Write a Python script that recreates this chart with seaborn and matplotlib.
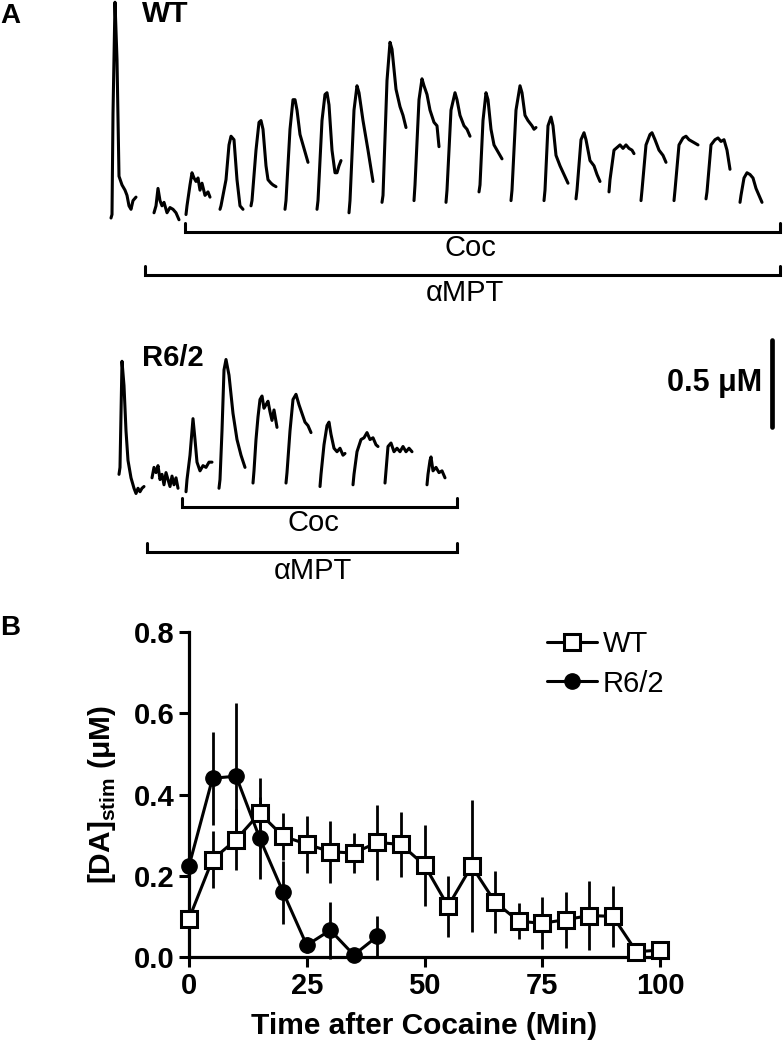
import numpy as np
import pandas as pd
import matplotlib
matplotlib.use("Agg")
import matplotlib.pyplot as plt
import seaborn as sns

sns.set_theme(style="ticks")
plt.rcParams['font.family'] = ['Liberation Sans', 'DejaVu Sans']
plt.rcParams['mathtext.fontset'] = 'custom'
plt.rcParams['mathtext.rm'] = 'Liberation Sans'
plt.rcParams['mathtext.bf'] = 'Liberation Sans:bold'
for k in ['text.color', 'axes.labelcolor', 'xtick.color', 'ytick.color', 'axes.edgecolor']:
    plt.rcParams[k] = 'black'

# ---------------- Panel B data ----------------
wt_time = [0, 5, 10, 15, 20, 25, 30, 35, 40, 45, 50, 55, 60, 65, 70, 75, 80, 85, 90, 95, 100]
wt_mean = [0.094, 0.240, 0.289, 0.354, 0.297, 0.278, 0.259, 0.256, 0.282, 0.277, 0.226,
           0.125, 0.224, 0.135, 0.088, 0.083, 0.092, 0.102, 0.100, 0.013, 0.017]
wt_err = [0.015, 0.070, 0.076, 0.086, 0.057, 0.070, 0.077, 0.049, 0.092, 0.080, 0.100,
          0.075, 0.163, 0.077, 0.044, 0.064, 0.069, 0.085, 0.075, 0.0, 0.0]
r6_time = [0, 5, 10, 15, 20, 25, 30, 35, 40]
r6_mean = [0.224, 0.440, 0.445, 0.293, 0.159, 0.029, 0.066, 0.005, 0.051]
r6_err = [0.0, 0.115, 0.180, 0.100, 0.077, 0.020, 0.070, 0.0, 0.050]
x_ticks = [0, 25, 50, 75, 100]
y_ticks = [0.0, 0.2, 0.4, 0.6, 0.8]

# ---------------- Panel A traces (time units, concentration in uM) ----------------
wt_traces_t = [
    [111, 112, 113, 115, 117, 119, 122, 125, 127, 129, 131, 133, 136],
    [154, 156, 158, 160, 162, 164, 167, 170, 173, 176, 179],
    [186, 187, 190, 192, 194, 196, 198, 200, 202, 205, 208, 210],
    [220, 221, 226, 229, 231, 234, 237, 240, 243],
    [251, 252, 256, 259, 261, 263, 266, 268, 271, 273, 276],
    [285, 286, 290, 293, 295, 297, 300, 303, 306, 308],
    [317, 318, 322, 325, 327, 329, 332, 335, 337, 339, 341],
    [349, 350, 354, 357, 359, 363, 368, 373],
    [382, 383, 387, 390, 392, 396, 400, 403, 406],
    [414, 415, 419, 422, 424, 427, 430, 434, 437, 439],
    [446, 447, 451, 455, 457, 460, 464, 467, 470],
    [479, 480, 483, 486, 488, 491, 494, 497, 500, 502],
    [511, 512, 516, 520, 522, 525, 528, 532, 534, 536],
    [544, 545, 548, 551, 553, 556, 560, 564, 568],
    [576, 577, 581, 584, 586, 590, 594, 597, 600],
    [609, 610, 614, 618, 620, 623, 626, 629, 632, 634],
    [641, 642, 646, 650, 652, 655, 659, 663, 666],
    [674, 675, 679, 683, 686, 689, 692, 695, 698],
    [706, 707, 711, 715, 718, 721, 724, 727, 730],
    [740, 741, 744, 747, 750, 753, 756, 759, 762],
]
wt_traces_c = [
    [0.00, 0.02, 0.60, 1.24, 0.91, 0.24, 0.19, 0.16, 0.13, 0.07, 0.05, 0.10, 0.12],
    [0.03, 0.07, 0.17, 0.10, 0.07, 0.09, 0.03, 0.06, 0.05, 0.03, -0.01],
    [0.02, 0.07, 0.19, 0.26, 0.23, 0.21, 0.23, 0.16, 0.20, 0.13, 0.15, 0.12],
    [0.05, 0.07, 0.22, 0.42, 0.47, 0.45, 0.22, 0.07, 0.05],
    [0.07, 0.10, 0.39, 0.55, 0.56, 0.51, 0.30, 0.22, 0.20, 0.19, 0.18],
    [0.05, 0.10, 0.51, 0.68, 0.68, 0.62, 0.48, 0.42, 0.36, 0.32],
    [0.05, 0.10, 0.56, 0.71, 0.72, 0.65, 0.39, 0.26, 0.26, 0.30, 0.33],
    [0.03, 0.10, 0.62, 0.76, 0.72, 0.56, 0.39, 0.21],
    [0.09, 0.13, 0.79, 1.01, 0.97, 0.74, 0.64, 0.59, 0.52],
    [0.10, 0.19, 0.68, 0.80, 0.76, 0.71, 0.62, 0.55, 0.53, 0.41],
    [0.09, 0.16, 0.62, 0.72, 0.68, 0.59, 0.53, 0.51, 0.47],
    [0.15, 0.19, 0.56, 0.72, 0.68, 0.51, 0.42, 0.39, 0.36, 0.34],
    [0.10, 0.16, 0.62, 0.76, 0.72, 0.59, 0.56, 0.53, 0.51, 0.52],
    [0.10, 0.16, 0.53, 0.58, 0.53, 0.36, 0.30, 0.25, 0.20],
    [0.11, 0.16, 0.45, 0.49, 0.45, 0.33, 0.30, 0.25, 0.21],
    [0.15, 0.22, 0.39, 0.41, 0.42, 0.40, 0.42, 0.40, 0.39, 0.37],
    [0.10, 0.16, 0.42, 0.48, 0.49, 0.45, 0.39, 0.36, 0.32],
    [0.10, 0.16, 0.42, 0.46, 0.47, 0.45, 0.44, 0.43, 0.42],
    [0.11, 0.15, 0.42, 0.45, 0.46, 0.44, 0.45, 0.39, 0.28],
    [0.09, 0.13, 0.23, 0.26, 0.25, 0.23, 0.17, 0.13, 0.09],
]
r6_traces_t = [
    [119, 120, 122, 124, 126, 128, 131, 134, 136, 138, 140, 142, 144],
    [152, 154, 156, 158, 160, 162, 164, 166, 168, 170, 172, 174, 176, 178],
    [186, 187, 190, 193, 195, 197, 200, 203, 206, 209, 212],
    [219, 220, 222, 224, 226, 229, 233, 237, 241, 245],
    [253, 254, 256, 258, 260, 262, 264, 266, 268, 270, 272, 274, 277],
    [286, 287, 290, 293, 296, 299, 302, 305, 308, 311],
    [320, 321, 324, 327, 329, 331, 334, 337, 340, 343, 345],
    [353, 354, 357, 361, 364, 367, 370, 373, 376, 378],
    [385, 386, 388, 391, 394, 397, 400, 403, 406, 409, 412],
    [427, 428, 430, 431, 433, 436, 439, 442, 445],
]
r6_traces_c = [
    [0.09, 0.13, 0.74, 0.60, 0.34, 0.17, 0.07, 0.01, -0.02, 0.01, -0.01, 0.01, 0.02],
    [0.07, 0.13, 0.10, 0.14, 0.06, 0.09, 0.03, 0.10, 0.06, 0.02, 0.08, 0.03, 0.07, 0.01],
    [-0.01, 0.06, 0.20, 0.41, 0.29, 0.16, 0.11, 0.14, 0.13, 0.16, 0.16],
    [0.01, 0.06, 0.34, 0.69, 0.75, 0.66, 0.44, 0.29, 0.20, 0.13],
    [0.04, 0.11, 0.29, 0.42, 0.52, 0.54, 0.47, 0.49, 0.51, 0.45, 0.40, 0.46, 0.36],
    [0.04, 0.10, 0.34, 0.52, 0.55, 0.49, 0.44, 0.39, 0.37, 0.33],
    [0.02, 0.09, 0.26, 0.37, 0.39, 0.32, 0.24, 0.22, 0.24, 0.20, 0.21],
    [0.03, 0.09, 0.22, 0.29, 0.30, 0.33, 0.29, 0.30, 0.26, 0.25],
    [0.04, 0.11, 0.25, 0.27, 0.22, 0.24, 0.22, 0.25, 0.22, 0.24, 0.22],
    [0.03, 0.09, 0.17, 0.19, 0.11, 0.13, 0.10, 0.11, 0.07],
]
scale_bar_uM = 0.5

W, H = 784, 1050
fig = plt.figure(figsize=(W / 100, H / 100), dpi=100)


def px_axes(x0, y0, x1, y1):
    """axes occupying the pixel box (x0,y0)-(x1,y1), y measured from top"""
    return fig.add_axes([x0 / W, 1 - y1 / H, (x1 - x0) / W, (y1 - y0) / H])


PX_PER_UM = 174.0
TRACE_LW = 2.2
# WT traces axes (baseline at pixel row 218)
ax_wt = px_axes(0, 0, W, 240)
ax_wt.set_xlim(0, W)
ax_wt.set_ylim((218 - 240) / PX_PER_UM, 218 / PX_PER_UM)
ax_wt.axis('off')
for t, c in zip(wt_traces_t, wt_traces_c):
    sns.lineplot(x=t, y=c, ax=ax_wt, color='black', lw=TRACE_LW, sort=False,
                 estimator=None, clip_on=False)

# R6/2 traces axes (baseline at pixel row 490)
ax_r6 = px_axes(0, 330, W, 500)
ax_r6.set_xlim(0, W)
ax_r6.set_ylim((490 - 500) / PX_PER_UM, (490 - 330) / PX_PER_UM)
ax_r6.axis('off')
for t, c in zip(r6_traces_t, r6_traces_c):
    sns.lineplot(x=t, y=c, ax=ax_r6, color='black', lw=TRACE_LW, sort=False,
                 estimator=None, clip_on=False)
# scale bar
bar_base = (490 - 427) / PX_PER_UM
ax_r6.plot([772, 772], [bar_base, bar_base + scale_bar_uM], color='black', lw=3.4,
           solid_capstyle='round', clip_on=False)

# overlay in pixel coordinates for brackets / labels
ov = fig.add_axes([0, 0, 1, 1])
ov.set_xlim(0, W)
ov.set_ylim(H, 0)
ov.axis('off')
ov.patch.set_alpha(0)


def bracket(x0, x1, y, h=9):
    ov.plot([x0, x0, x1, x1], [y - h, y, y, y - h], color='black', lw=2.2,
            solid_joinstyle='miter')


bracket(185, 780, 232)
bracket(145, 780, 275)
bracket(182, 457, 507)
bracket(147, 457, 552)
ov.text(470, 248, 'Coc', ha='center', va='center', fontsize=21)
ov.text(465, 293, 'αMPT', ha='center', va='center', fontsize=21)
ov.text(313, 523, 'Coc', ha='center', va='center', fontsize=21)
ov.text(313, 571, 'αMPT', ha='center', va='center', fontsize=21)
ov.text(0, 16, 'A', ha='left', va='center', fontsize=20, fontweight='bold')
ov.text(142, 14, 'WT', ha='left', va='center', fontsize=21.5, fontweight='bold')
ov.text(142, 358, 'R6/2', ha='left', va='center', fontsize=21, fontweight='bold')
ov.text(762, 383, '0.5 μM', ha='right', va='center', fontsize=22, fontweight='bold')
ov.text(0, 628, 'B', ha='left', va='center', fontsize=20, fontweight='bold')

# ---------------- Panel B ----------------
axb = px_axes(189, 632, 660, 957)
axb.errorbar(r6_time, r6_mean, yerr=r6_err, fmt='none', ecolor='black', elinewidth=2.0,
             capsize=0, zorder=2, clip_on=False)
axb.errorbar(wt_time, wt_mean, yerr=wt_err, fmt='none', ecolor='black', elinewidth=2.0,
             capsize=0, zorder=2, clip_on=False)
sns.lineplot(x=r6_time, y=r6_mean, ax=axb, color='black', lw=2.2, marker='o',
             markersize=11, markerfacecolor='black', markeredgecolor='black',
             markeredgewidth=1, label='R6/2', zorder=3, clip_on=False)
sns.lineplot(x=wt_time, y=wt_mean, ax=axb, color='black', lw=2.2, marker='s',
             markersize=12, markerfacecolor='white', markeredgecolor='black',
             markeredgewidth=2.2, label='WT', zorder=4, clip_on=False)
axb.set_xlim(0, 100)
axb.set_ylim(0, 0.8)
axb.set_xticks(x_ticks)
axb.set_yticks(y_ticks)
axb.set_yticklabels([f'{v:.1f}' for v in y_ticks])
axb.set_xticklabels([str(v) for v in x_ticks])
for lab in axb.get_xticklabels() + axb.get_yticklabels():
    lab.set_fontweight('bold')
    lab.set_fontsize(21)
axb.tick_params(axis='both', direction='out', length=7.5, width=2.2, color='black', pad=3)
sns.despine(ax=axb)
for s in ['left', 'bottom']:
    axb.spines[s].set_linewidth(2.3)
    axb.spines[s].set_color('black')
axb.set_xlabel('Time after Cocaine (Min)', fontsize=21.5, fontweight='bold', labelpad=9)
axb.set_ylabel(r'[DA]$_{\mathbf{stim}}$ (μM)', fontsize=21.5, fontweight='bold', labelpad=11)

handles, labels = axb.get_legend_handles_labels()
order = [labels.index('WT'), labels.index('R6/2')]
leg = axb.legend([handles[i] for i in order], [labels[i] for i in order],
                 loc='upper left', bbox_to_anchor=((547 - 189) / 471, (957 - 630) / 325),
                 frameon=False, fontsize=21, borderpad=0, borderaxespad=0,
                 handlelength=1.7, handletextpad=0.2, labelspacing=0.4)

fig.savefig('out.png', dpi=100, facecolor='white')
